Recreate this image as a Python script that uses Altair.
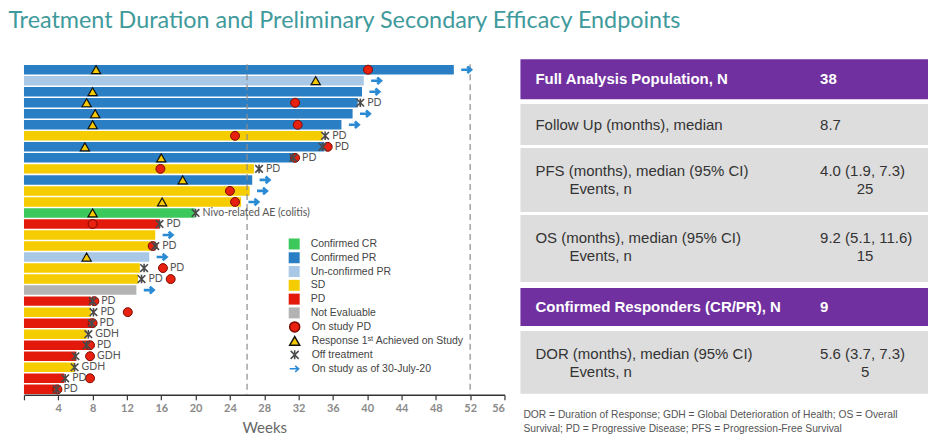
import altair as alt
import pandas as pd

# ---------------- swimmer lanes (top to bottom) ----------------
lane_status = [
    "Confirmed PR", "Un-confirmed PR", "Confirmed PR", "Confirmed PR", "Confirmed PR",
    "Confirmed PR", "SD", "Confirmed PR", "Confirmed PR", "SD",
    "Confirmed PR", "SD", "SD", "Confirmed CR", "PD",
    "SD", "SD", "Un-confirmed PR", "SD", "SD",
    "Not Evaluable", "PD", "SD", "PD", "SD",
    "PD", "PD", "SD", "PD", "PD",
]
lane_weeks = [
    50.1, 39.6, 39.4, 38.9, 38.3, 37.0, 34.8, 35.0, 31.5, 26.8,
    26.6, 26.3, 25.3, 19.9, 15.8, 15.3, 14.7, 14.6, 13.5, 13.3,
    13.1, 7.8, 7.8, 8.0, 7.3, 7.5, 6.1, 5.9, 4.7, 3.7,
]

# events on each lane (lane numbers count from the top, 1-based)
response_lanes = [1, 2, 3, 4, 5, 6, 8, 9, 11, 13, 14, 18]
response_weeks = [8.4, 34.0, 8.0, 7.3, 8.3, 8.0, 7.1, 16.0, 18.5, 16.1, 8.0, 7.3]

pd_lanes = [1, 4, 6, 7, 8, 9, 10, 12, 13, 15, 17, 19, 20, 22, 23, 24, 26, 27, 29, 30]
pd_weeks = [40.1, 31.6, 31.9, 24.6, 35.4, 31.6, 15.9, 24.0, 24.6, 8.0,
            15.0, 16.2, 17.1, 8.2, 12.1, 8.0, 7.7, 7.7, 7.7, 3.9]

off_lanes = [4, 7, 8, 9, 10, 14, 15, 17, 19, 20, 22, 23, 24, 25, 26, 27, 28, 29, 30]
off_weeks = [39.2, 35.1, 34.8, 31.4, 27.4, 20.0, 15.8, 15.3, 14.0, 13.7,
             8.0, 8.1, 7.9, 7.5, 7.3, 6.0, 5.9, 4.8, 3.8]

ongoing_lanes = [1, 2, 3, 5, 6, 11, 12, 13, 16, 18, 21]

# reason notes, each written just after the event it follows
note_lanes = [4, 7, 8, 9, 10, 14, 15, 17, 19, 20, 22, 23, 24, 25, 26, 27, 28, 29, 30]
note_text = ["PD", "PD", "PD", "PD", "PD", "Nivo-related AE (colitis)", "PD", "PD", "PD", "PD",
             "PD", "PD", "PD", "GDH", "PD", "GDH", "GDH", "PD", "PD"]
note_after = ["off", "off", "pd", "pd", "off", "off", "off", "off", "pd", "off",
              "pd", "off", "pd", "off", "pd", "pd", "off", "off", "off"]

reference_weeks = [26, 52]
week_ticks = list(range(0, 57, 4))

# ---------------- summary table ----------------
table_labels = [
    "Full Analysis Population, N",
    "Follow Up (months), median",
    "PFS (months), median (95% CI)",
    "OS (months), median (95% CI)",
    "Confirmed Responders (CR/PR), N",
    "DOR (months), median (95% CI)",
]
table_values = ["38", "8.7", "4.0 (1.9, 7.3)", "9.2 (5.1, 11.6)", "9", "5.6 (3.7, 7.3)"]
table_events = ["", "", "25", "15", "", "5"]
table_kind = ["header", "body", "body", "body", "header", "body"]
footnote_lines = [
    "DOR = Duration of Response; GDH = Global Deterioration of Health;  OS = Overall",
    "Survival; PD = Progressive Disease; PFS = Progression-Free Survival",
]

TITLE = "Treatment Duration and Preliminary Secondary Efficacy Endpoints"

# ---------------- styling ----------------
STATUS_ORDER = ["Confirmed CR", "Confirmed PR", "Un-confirmed PR", "SD", "PD", "Not Evaluable"]
STATUS_COLORS = ["#3cc85a", "#2a7fc4", "#a8c8e6", "#f5cc00", "#e31a0b", "#b3b3b3"]

EV_PD = "On study PD"
EV_RESP = "Response 1ˢᵗ Achieved on Study"
EV_OFF = "Off treatment"
EV_ON = "On study as of 30-July-20"
EVENT_ORDER = [EV_PD, EV_RESP, EV_OFF, EV_ON]
X_PATH = "M-0.8,-0.8L0.8,0.8M-0.8,0.8L0.8,-0.8M0,-0.9L0,0.9"
ARROW_PATH = "M-1,0L0.75,0M0.1,-0.6L0.8,0L0.1,0.6"
EVENT_SHAPES = ["circle", "triangle-up", X_PATH, ARROW_PATH]
EVENT_FILLS = ["#e8200f", "#f5c800", "transparent", "transparent"]
EVENT_STROKES = ["#7a0a00", "#111111", "#4a4a4a", "#2a8ad4"]
EVENT_SIZE = {EV_PD: 80, EV_RESP: 85, EV_OFF: 90, EV_ON: 120}
EVENT_STROKE_W = {EV_PD: 1.0, EV_RESP: 1.2, EV_OFF: 1.6, EV_ON: 2.6}
ARROW_GAP = 1.5  # weeks between lane end and the on-study arrow

TEAL = "#3f9a9c"
PURPLE = "#7030a0"
GRAY = "#dddddd"
TXT = "#333333"
SANS = "Liberation Sans"
LABEL_FONT = "Lato"

PLOT_W, PLOT_H = 481, 331
TABLE_W = 408
ROW_TOP = [-5, 40, 84, 151, 224, 267]
ROW_BOTTOM = [35, 81, 148, 218, 262, 330]
FOOT_Y = [351, 365]

# ---------------- frames ----------------
lanes = pd.DataFrame({"lane": range(1, len(lane_status) + 1),
                      "status": lane_status, "weeks": lane_weeks})

events = []
for r, w in zip(response_lanes, response_weeks):
    events.append({"lane": r, "week": w, "event": EV_RESP})
for r, w in zip(pd_lanes, pd_weeks):
    events.append({"lane": r, "week": w, "event": EV_PD})
for r, w in zip(off_lanes, off_weeks):
    events.append({"lane": r, "week": w, "event": EV_OFF})
for r in ongoing_lanes:
    events.append({"lane": r, "week": lane_weeks[r - 1] + ARROW_GAP, "event": EV_ON})
events = pd.DataFrame(events)
events["msize"] = events["event"].map(EVENT_SIZE)
events["mstroke"] = events["event"].map(EVENT_STROKE_W)

pd_at = dict(zip(pd_lanes, pd_weeks))
off_at = dict(zip(off_lanes, off_weeks))
notes = pd.DataFrame({
    "lane": note_lanes,
    "text": note_text,
    "week": [pd_at[r] if a == "pd" else off_at[r] for r, a in zip(note_lanes, note_after)],
})

refs = pd.DataFrame({"week": reference_weeks})

# ---------------- swimmer chart ----------------
y_lane = alt.Y("lane:O", axis=None,
               scale=alt.Scale(paddingInner=0.14, paddingOuter=0.07))
x_scale = alt.Scale(domain=[0, 56], nice=False, zero=True)
x_axis = alt.Axis(values=week_ticks, labelOverlap=False, tickCount=len(week_ticks),
                  labelExpr="datum.value == 0 ? '' : datum.label",
                  grid=False, domainColor="#333333", domainWidth=1.5,
                  tickColor="#333333", tickSize=5, tickWidth=1.2,
                  labelColor="#8a8a8a", labelFont=LABEL_FONT,
                  labelFontWeight="bold", labelFontSize=11, labelPadding=3,
                  title="Weeks", titleFont=LABEL_FONT, titleFontSize=15,
                  titleFontWeight="normal", titleColor="#666666",
                  titlePadding=7)


def x_week(field):
    return alt.X(field, type="quantitative", stack=None, scale=x_scale, axis=x_axis,
                 title="Weeks")


bars = alt.Chart(lanes).mark_bar(cornerRadius=0).encode(
    x=x_week("weeks"),
    y=y_lane,
    color=alt.Color("status:N",
                    scale=alt.Scale(domain=STATUS_ORDER, range=STATUS_COLORS),
                    legend=alt.Legend(title=None, orient="none", legendX=265, legendY=174.5,
                                      symbolType="square", symbolSize=121,
                                      symbolStrokeWidth=0, padding=0,
                                      labelFont=SANS, labelFontSize=10.5,
                                      labelColor="#444444", labelOffset=11,
                                      rowPadding=2.8)),
)

rules = alt.Chart(refs).mark_rule(color="#8c8c8c", strokeDash=[6, 4], strokeWidth=1.2).encode(
    x=x_week("week")
)

ev_legend = alt.Legend(title=None, orient="none", legendX=265, legendY=257,
                       symbolSize=100, symbolStrokeWidth=1.5, padding=0,
                       labelFont=SANS, labelFontSize=10.5, labelColor="#444444",
                       labelOffset=11, rowPadding=-2.2)

markers = alt.Chart(events).mark_point(opacity=1).encode(
    x=x_week("week"),
    y=y_lane,
    shape=alt.Shape("event:N", scale=alt.Scale(domain=EVENT_ORDER, range=EVENT_SHAPES),
                    legend=ev_legend),
    fill=alt.Fill("event:N", scale=alt.Scale(domain=EVENT_ORDER, range=EVENT_FILLS),
                  legend=ev_legend),
    stroke=alt.Stroke("event:N", scale=alt.Scale(domain=EVENT_ORDER, range=EVENT_STROKES),
                      legend=ev_legend),
    size=alt.Size("msize:Q", scale=None, legend=None),
    strokeWidth=alt.StrokeWidth("mstroke:Q", scale=None, legend=None),
)

note_marks = alt.Chart(notes).mark_text(
    align="left", baseline="middle", dx=7, font=LABEL_FONT, fontSize=10.5, color="#555555"
).encode(
    x=x_week("week"),
    y=y_lane,
    text="text:N",
)

swimmer = alt.layer(bars, rules, markers, note_marks).properties(width=PLOT_W, height=PLOT_H)

# ---------------- summary table ----------------
tbl = pd.DataFrame({
    "label": table_labels,
    "value": table_values,
    "events": table_events,
    "kind": table_kind,
    "top": ROW_TOP,
    "bottom": ROW_BOTTOM,
})
two_line = tbl["events"] != ""
tbl["line1"] = (tbl["top"] + tbl["bottom"]) / 2
tbl.loc[two_line, "line1"] = tbl.loc[two_line, "top"] + 23
tbl["line2"] = tbl["top"] + 41

foot = pd.DataFrame({"text": footnote_lines, "y": FOOT_Y})

ty = alt.Scale(domain=[0, PLOT_H], reverse=True, nice=False, zero=False)

cells = alt.Chart(tbl).mark_rect().encode(
    x=alt.value(0), x2=alt.value(TABLE_W),
    y=alt.Y("top:Q", scale=ty, axis=None), y2="bottom:Q",
    color=alt.Color("kind:N", scale=alt.Scale(domain=["header", "body"], range=[PURPLE, GRAY]),
                    legend=None),
)

head_txt = alt.Chart(tbl).transform_filter("datum.kind == 'header'")
body_txt = alt.Chart(tbl).transform_filter("datum.kind == 'body'")

head_labels = head_txt.mark_text(align="left", baseline="middle", font=SANS, fontSize=15,
                                 fontWeight="bold", color="white").encode(
    x=alt.value(15), y=alt.Y("line1:Q", scale=ty, axis=None), text="label:N")
head_values = head_txt.mark_text(align="left", baseline="middle", font=SANS, fontSize=15,
                                 fontWeight="bold", color="white").encode(
    x=alt.value(300), y=alt.Y("line1:Q", scale=ty, axis=None), text="value:N")
body_labels = body_txt.mark_text(align="left", baseline="middle", font=SANS, fontSize=15,
                                 color=TXT).encode(
    x=alt.value(15), y=alt.Y("line1:Q", scale=ty, axis=None), text="label:N")
body_values = body_txt.mark_text(align="left", baseline="middle", font=SANS, fontSize=15,
                                 color=TXT).encode(
    x=alt.value(300), y=alt.Y("line1:Q", scale=ty, axis=None), text="value:N")

ev_txt = alt.Chart(tbl).transform_filter("datum.events != ''")
ev_labels = ev_txt.mark_text(align="left", baseline="middle", font=SANS, fontSize=15,
                             color=TXT).encode(
    x=alt.value(49), y=alt.Y("line2:Q", scale=ty, axis=None), text=alt.value("Events, n"))
ev_values = ev_txt.mark_text(align="center", baseline="middle", font=SANS, fontSize=15,
                             color=TXT).encode(
    x=alt.value(345), y=alt.Y("line2:Q", scale=ty, axis=None), text="events:N")

foot_txt = alt.Chart(foot).mark_text(align="left", baseline="middle", font=SANS,
                                     fontSize=10.3, color="#555555").encode(
    x=alt.value(3), y=alt.Y("y:Q", scale=ty, axis=None), text="text:N")

table = alt.layer(cells, head_labels, head_values, body_labels, body_values,
                  ev_labels, ev_values, foot_txt).properties(width=TABLE_W, height=PLOT_H)

chart = alt.hconcat(swimmer, table, spacing=16, bounds="flush").properties(
    title=alt.TitleParams(TITLE, anchor="start", dx=-15, fontSize=23.4, font="Lato",
                          fontWeight="normal", color=TEAL, offset=26),
    padding={"left": 8, "top": 8, "right": 8, "bottom": 2},
    background="white",
).resolve_scale(color="independent").configure_view(stroke=None)

chart.save("out.html", embed_options={"renderer": "svg", "actions": False})
